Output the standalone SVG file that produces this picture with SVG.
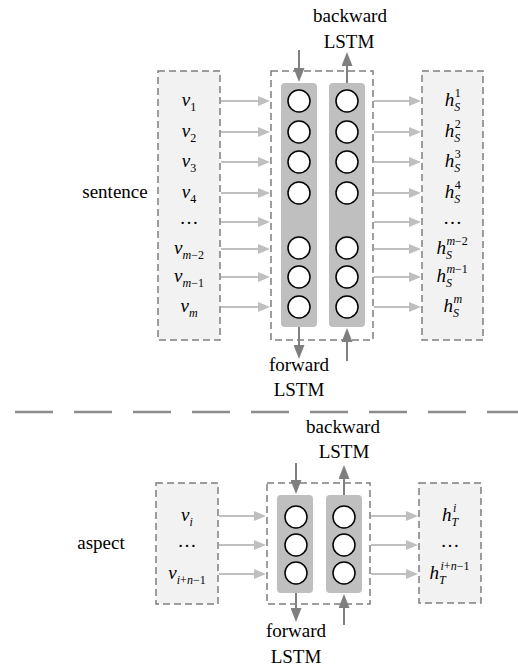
<svg xmlns="http://www.w3.org/2000/svg" width="518" height="666" viewBox="0 0 518 666">
<style>
.t{font-family:"Liberation Serif","Times New Roman",serif;font-size:19px;fill:#000}
.it{font-style:italic}
.sm{font-size:12px}
.box{fill:#f2f2f2;stroke:#7f7f7f;stroke-width:1.5;stroke-dasharray:7 4}
.mid{fill:#fff;stroke:#7f7f7f;stroke-width:1.5;stroke-dasharray:7 4}
.col{fill:#bfbfbf}
.cell{fill:#fff;stroke:#000;stroke-width:1.5}
.ha{stroke:#bfbfbf;stroke-width:2;fill:none;marker-end:url(#mh)}
.va{stroke:#7f7f7f;stroke-width:2;fill:none;marker-end:url(#mv)}
.sep{stroke:#8c8c8c;stroke-width:2.5;stroke-dasharray:38 21}
</style>
<defs>
<marker id="mh" markerUnits="userSpaceOnUse" markerWidth="12" markerHeight="10" refX="8" refY="5" orient="auto">
<path d="M0,0 L12,5 L0,10 z" fill="#bfbfbf"/>
</marker>
<marker id="mv" markerUnits="userSpaceOnUse" markerWidth="14" markerHeight="11" refX="11" refY="5.5" orient="auto">
<path d="M0,0 L14,5.5 L0,11 z" fill="#7f7f7f"/>
</marker>
</defs>

<!-- ===== sentence part ===== -->
<g id="sentence-label"><text class="t" x="115" y="198" text-anchor="middle">sentence</text></g>

<g id="sentence-inputs">
<rect class="box" x="158" y="71" width="62" height="269"/>
<text class="t" x="189" y="106" text-anchor="middle"><tspan class="it">v</tspan><tspan class="sm" dy="5">1</tspan></text>
<text class="t" x="189" y="137" text-anchor="middle"><tspan class="it">v</tspan><tspan class="sm" dy="5">2</tspan></text>
<text class="t" x="189" y="167" text-anchor="middle"><tspan class="it">v</tspan><tspan class="sm" dy="5">3</tspan></text>
<text class="t" x="189" y="198" text-anchor="middle"><tspan class="it">v</tspan><tspan class="sm" dy="5">4</tspan></text>
<text class="t" x="189" y="224" text-anchor="middle">…</text>
<text class="t" x="189" y="254" text-anchor="middle"><tspan class="it">v</tspan><tspan class="sm" dy="5"><tspan class="it">m</tspan>−2</tspan></text>
<text class="t" x="189" y="282" text-anchor="middle"><tspan class="it">v</tspan><tspan class="sm" dy="5"><tspan class="it">m</tspan>−1</tspan></text>
<text class="t" x="189" y="312" text-anchor="middle"><tspan class="it">v</tspan><tspan class="sm it" dy="5">m</tspan></text>
</g>

<g id="sentence-bilstm">
<rect class="mid" x="271" y="71" width="102" height="269"/>
<rect class="col" x="281" y="83" width="36" height="244" rx="4"/>
<rect class="col" x="329" y="83" width="36" height="244" rx="4"/>
<g id="sentence-forward-cells">
<circle class="cell" cx="299" cy="101" r="11"/>
<circle class="cell" cx="299" cy="132" r="11"/>
<circle class="cell" cx="299" cy="162" r="11"/>
<circle class="cell" cx="299" cy="193" r="11"/>
<circle class="cell" cx="299" cy="248" r="11"/>
<circle class="cell" cx="299" cy="277" r="11"/>
<circle class="cell" cx="299" cy="307" r="11"/>
</g>
<g id="sentence-backward-cells">
<circle class="cell" cx="347" cy="101" r="11"/>
<circle class="cell" cx="347" cy="132" r="11"/>
<circle class="cell" cx="347" cy="162" r="11"/>
<circle class="cell" cx="347" cy="193" r="11"/>
<circle class="cell" cx="347" cy="248" r="11"/>
<circle class="cell" cx="347" cy="277" r="11"/>
<circle class="cell" cx="347" cy="307" r="11"/>
</g>
</g>

<g id="sentence-outputs">
<rect class="box" x="422" y="71" width="61" height="269"/>
<text class="t it" x="444.7" y="106">h</text><text class="t sm it" x="454.2" y="111">S</text><text class="t sm" x="454.7" y="97">1</text>
<text class="t it" x="444.7" y="137">h</text><text class="t sm it" x="454.2" y="142">S</text><text class="t sm" x="454.7" y="128">2</text>
<text class="t it" x="444.7" y="167">h</text><text class="t sm it" x="454.2" y="172">S</text><text class="t sm" x="454.7" y="158">3</text>
<text class="t it" x="444.7" y="198">h</text><text class="t sm it" x="454.2" y="203">S</text><text class="t sm" x="454.7" y="189">4</text>
<text class="t" x="452.5" y="224" text-anchor="middle">…</text>
<text class="t it" x="436.4" y="254">h</text><text class="t sm it" x="445.9" y="259">S</text><text class="t sm" x="446.4" y="245"><tspan class="it">m</tspan>−2</text>
<text class="t it" x="436.4" y="282">h</text><text class="t sm it" x="445.9" y="287">S</text><text class="t sm" x="446.4" y="273"><tspan class="it">m</tspan>−1</text>
<text class="t it" x="443.4" y="312">h</text><text class="t sm it" x="452.9" y="317">S</text><text class="t sm it" x="453.4" y="303">m</text>
</g>

<g id="sentence-backward-label">
<text class="t" x="350" y="22" text-anchor="middle">backward</text>
<text class="t" x="349" y="48" text-anchor="middle">LSTM</text>
</g>
<g id="sentence-forward-label">
<text class="t" x="299" y="371" text-anchor="middle">forward</text>
<text class="t" x="299" y="396" text-anchor="middle">LSTM</text>
</g>

<!-- separator -->
<line class="sep" x1="15" y1="412" x2="518" y2="412"/>

<!-- ===== aspect part ===== -->
<g id="aspect-label"><text class="t" x="101" y="549" text-anchor="middle">aspect</text></g>

<g id="aspect-inputs">
<rect class="box" x="156" y="483" width="62" height="121"/>
<text class="t" x="187" y="521" text-anchor="middle"><tspan class="it">v</tspan><tspan class="sm it" dy="5">i</tspan></text>
<text class="t" x="187" y="547" text-anchor="middle">…</text>
<text class="t" x="187" y="579" text-anchor="middle"><tspan class="it">v</tspan><tspan class="sm" dy="5"><tspan class="it">i</tspan>+<tspan class="it">n</tspan>−1</tspan></text>
</g>

<g id="aspect-bilstm">
<rect class="mid" x="267" y="483" width="103" height="121"/>
<rect class="col" x="277" y="495" width="36" height="98" rx="4"/>
<rect class="col" x="326" y="495" width="36" height="98" rx="4"/>
<g id="aspect-forward-cells">
<circle class="cell" cx="296" cy="517" r="11"/>
<circle class="cell" cx="296" cy="545" r="11"/>
<circle class="cell" cx="296" cy="573" r="11"/>
</g>
<g id="aspect-backward-cells">
<circle class="cell" cx="344" cy="517" r="11"/>
<circle class="cell" cx="344" cy="545" r="11"/>
<circle class="cell" cx="344" cy="573" r="11"/>
</g>
</g>

<g id="aspect-outputs">
<rect class="box" x="419" y="483" width="62" height="120"/>
<text class="t it" x="441.9" y="521">h</text><text class="t sm it" x="451.4" y="526">T</text><text class="t sm it" x="452.9" y="512">i</text>
<text class="t" x="450" y="547" text-anchor="middle">…</text>
<text class="t it" x="429.5" y="579">h</text><text class="t sm it" x="439" y="584">T</text><text class="t sm" x="440.5" y="570"><tspan class="it">i</tspan>+<tspan class="it">n</tspan>−1</text>
</g>

<g id="aspect-backward-label">
<text class="t" x="343" y="433" text-anchor="middle">backward</text>
<text class="t" x="344" y="458" text-anchor="middle">LSTM</text>
</g>
<g id="aspect-forward-label">
<text class="t" x="296" y="637" text-anchor="middle">forward</text>
<text class="t" x="296" y="663" text-anchor="middle">LSTM</text>
</g>

<!-- ===== connectors ===== -->
<g id="connectors">
<line class="ha" x1="221" y1="101" x2="266" y2="101"/>
<line class="ha" x1="221" y1="132" x2="266" y2="132"/>
<line class="ha" x1="221" y1="162" x2="266" y2="162"/>
<line class="ha" x1="221" y1="193" x2="266" y2="193"/>
<line class="ha" x1="221" y1="222" x2="266" y2="222"/>
<line class="ha" x1="221" y1="249" x2="266" y2="249"/>
<line class="ha" x1="221" y1="277" x2="266" y2="277"/>
<line class="ha" x1="221" y1="307" x2="266" y2="307"/>

<line class="ha" x1="374" y1="101" x2="417" y2="101"/>
<line class="ha" x1="374" y1="132" x2="417" y2="132"/>
<line class="ha" x1="374" y1="162" x2="417" y2="162"/>
<line class="ha" x1="374" y1="193" x2="417" y2="193"/>
<line class="ha" x1="374" y1="222" x2="417" y2="222"/>
<line class="ha" x1="374" y1="249" x2="417" y2="249"/>
<line class="ha" x1="374" y1="277" x2="417" y2="277"/>
<line class="ha" x1="374" y1="307" x2="417" y2="307"/>

<line class="va" x1="299" y1="50" x2="299" y2="79"/>
<line class="va" x1="347" y1="83" x2="347" y2="55"/>
<line class="va" x1="299" y1="327" x2="299" y2="356"/>
<line class="va" x1="347" y1="361" x2="347" y2="331"/>

<line class="ha" x1="219" y1="516" x2="262" y2="516"/>
<line class="ha" x1="219" y1="545" x2="262" y2="545"/>
<line class="ha" x1="219" y1="574" x2="262" y2="574"/>
<line class="ha" x1="371" y1="516" x2="414" y2="516"/>
<line class="ha" x1="371" y1="545" x2="414" y2="545"/>
<line class="ha" x1="371" y1="574" x2="414" y2="574"/>

<line class="va" x1="296" y1="463" x2="296" y2="491"/>
<line class="va" x1="344" y1="495" x2="344" y2="468"/>
<line class="va" x1="296" y1="593" x2="296" y2="619"/>
<line class="va" x1="344" y1="625" x2="344" y2="597"/>
</g>
</svg>
